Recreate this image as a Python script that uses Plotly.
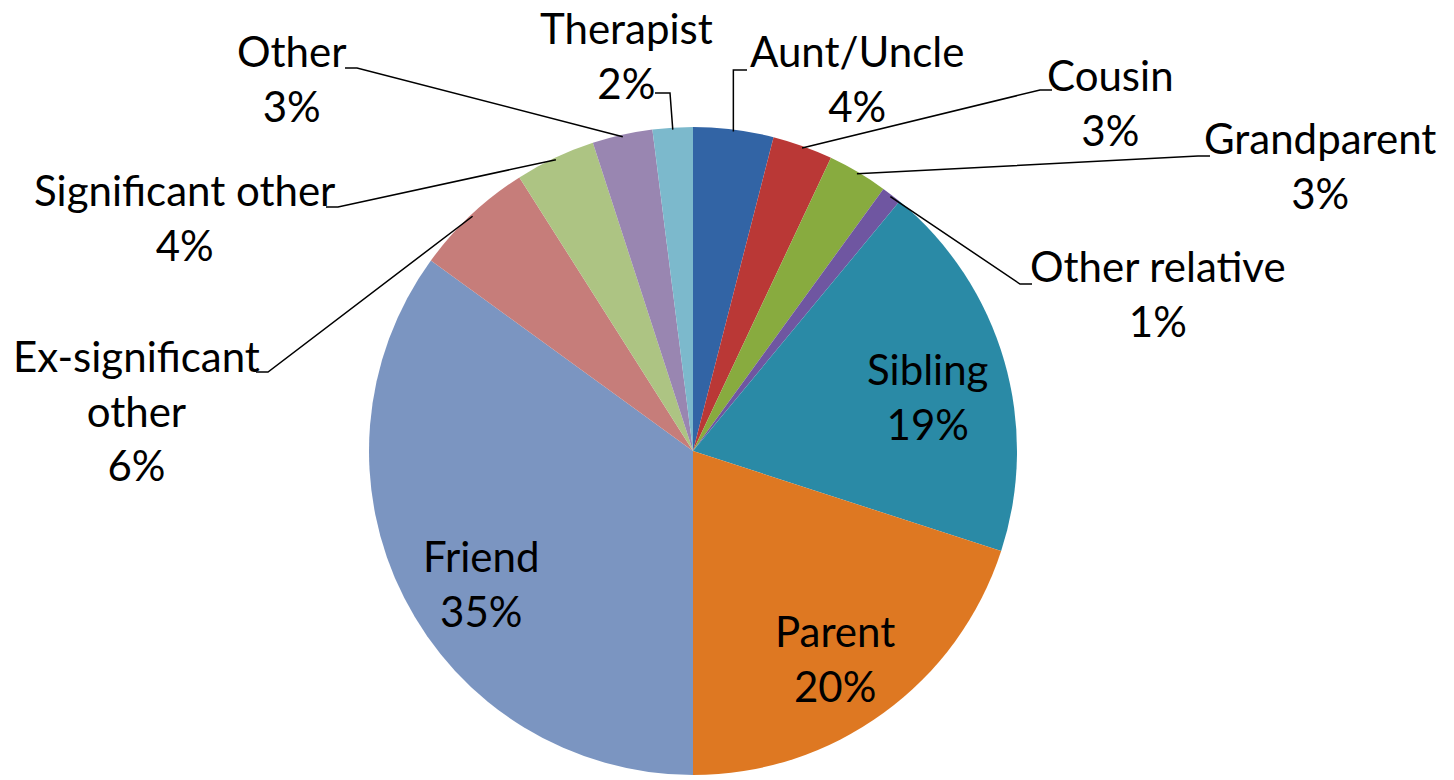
import math
import plotly.graph_objects as go

# ---- data ----
categories = ["Aunt/Uncle", "Cousin", "Grandparent", "Other relative", "Sibling",
              "Parent", "Friend", "Ex-significant other", "Significant other",
              "Other", "Therapist"]
shares = [4, 3, 3, 1, 19, 20, 35, 6, 4, 3, 2]
label_text = ["Aunt/Uncle", "Cousin", "Grandparent", "Other relative", "Sibling",
              "Parent", "Friend", "Ex-significant<br>other", "Significant other",
              "Other", "Therapist"]

# ---- style ----
colors = ["#3264A5", "#BA3836", "#88AB3F", "#6F56A1", "#2A8AA6",
          "#DE7822", "#7B95C1", "#C67D7A", "#ADC483", "#9986B1", "#7CB9CC"]
W, H = 1454, 780
CX, CY, R = 693, 451, 324    # pie centre / radius in page pixels
FONT = "Lato"
FS = 42
LINE = 1.3 * FS
inside = {"Sibling", "Parent", "Friend"}

# label layout in page pixels: (text centre x, first-line baseline y, elbow x, elbow y, side)
label_layout = {
    "Aunt/Uncle": (857, 68, 747, 70, "left"),
    "Cousin": (1110, 92, 1040, 90, "left"),
    "Grandparent": (1320, 155, 1198, 156, "left"),
    "Other relative": (1158, 283, 1020, 284, "left"),
    "Sibling": (928, 386, None, None, None),
    "Parent": (835, 648, None, None, None),
    "Friend": (481, 573, None, None, None),
    "Ex-significant other": (136, 373, 268, 372, "right"),
    "Significant other": (185, 207, 338, 207, "right"),
    "Other": (292, 68, 357, 68, "right"),
    "Therapist": (626, 45, 655, 93, "right"),
}


def px(x):
    return x / W


def py(y):
    return 1 - y / H


fig = go.Figure(go.Pie(
    labels=categories,
    values=shares,
    sort=False,
    direction="clockwise",
    rotation=0,
    marker=dict(colors=colors, line=dict(width=0)),
    textinfo="none",
    domain=dict(x=[px(CX - R), px(CX + R)], y=[py(CY + R), py(CY - R)]),
    showlegend=False,
    hoverinfo="label+percent",
))

total = sum(shares)
cum = 0
shapes = []
annotations = []
for cat, val, txt in zip(categories, shares, label_text):
    mid = (cum + val / 2) / total * 2 * math.pi
    cum += val
    tx, b1, ex, ey, side = label_layout[cat]
    nlines = txt.count("<br>") + 2
    cy_text = b1 + (nlines - 1) * LINE / 2 - 0.4 * FS
    annotations.append(dict(x=px(tx), y=py(cy_text), xref="paper", yref="paper",
                            text=f"{txt}<br>{val}%", showarrow=False,
                            xanchor="center", yanchor="middle", align="center",
                            borderpad=0,
                            font=dict(family=FONT, size=FS, color="black")))
    if cat in inside:
        continue
    sx = CX + (R - 2) * math.sin(mid)
    sy = CY - (R - 2) * math.cos(mid)
    if cat == "Aunt/Uncle":
        pts = [(sx, sy), (sx, ey), (ex, ey)]
    elif cat == "Therapist":
        pts = [(sx, sy), (ex + 15, ey), (ex, ey)]
    else:
        hx = ex + 12 if side == "left" else ex - 12
        pts = [(sx, sy), (ex, ey), (hx, ey)]
    path = "M " + " L ".join(f"{px(a):.5f},{py(b):.5f}" for a, b in pts)
    shapes.append(dict(type="path", path=path, xref="paper", yref="paper",
                       line=dict(color="black", width=1.5)))

fig.update_layout(
    width=W, height=H,
    margin=dict(l=0, r=0, t=0, b=0),
    paper_bgcolor="white", plot_bgcolor="white",
    shapes=shapes, annotations=annotations,
    font=dict(family=FONT, size=FS, color="black"),
)
fig.write_html("out.html",
               config={"displayModeBar": False},
               post_script="document.body.style.margin='0';document.body.style.overflow='hidden';")
